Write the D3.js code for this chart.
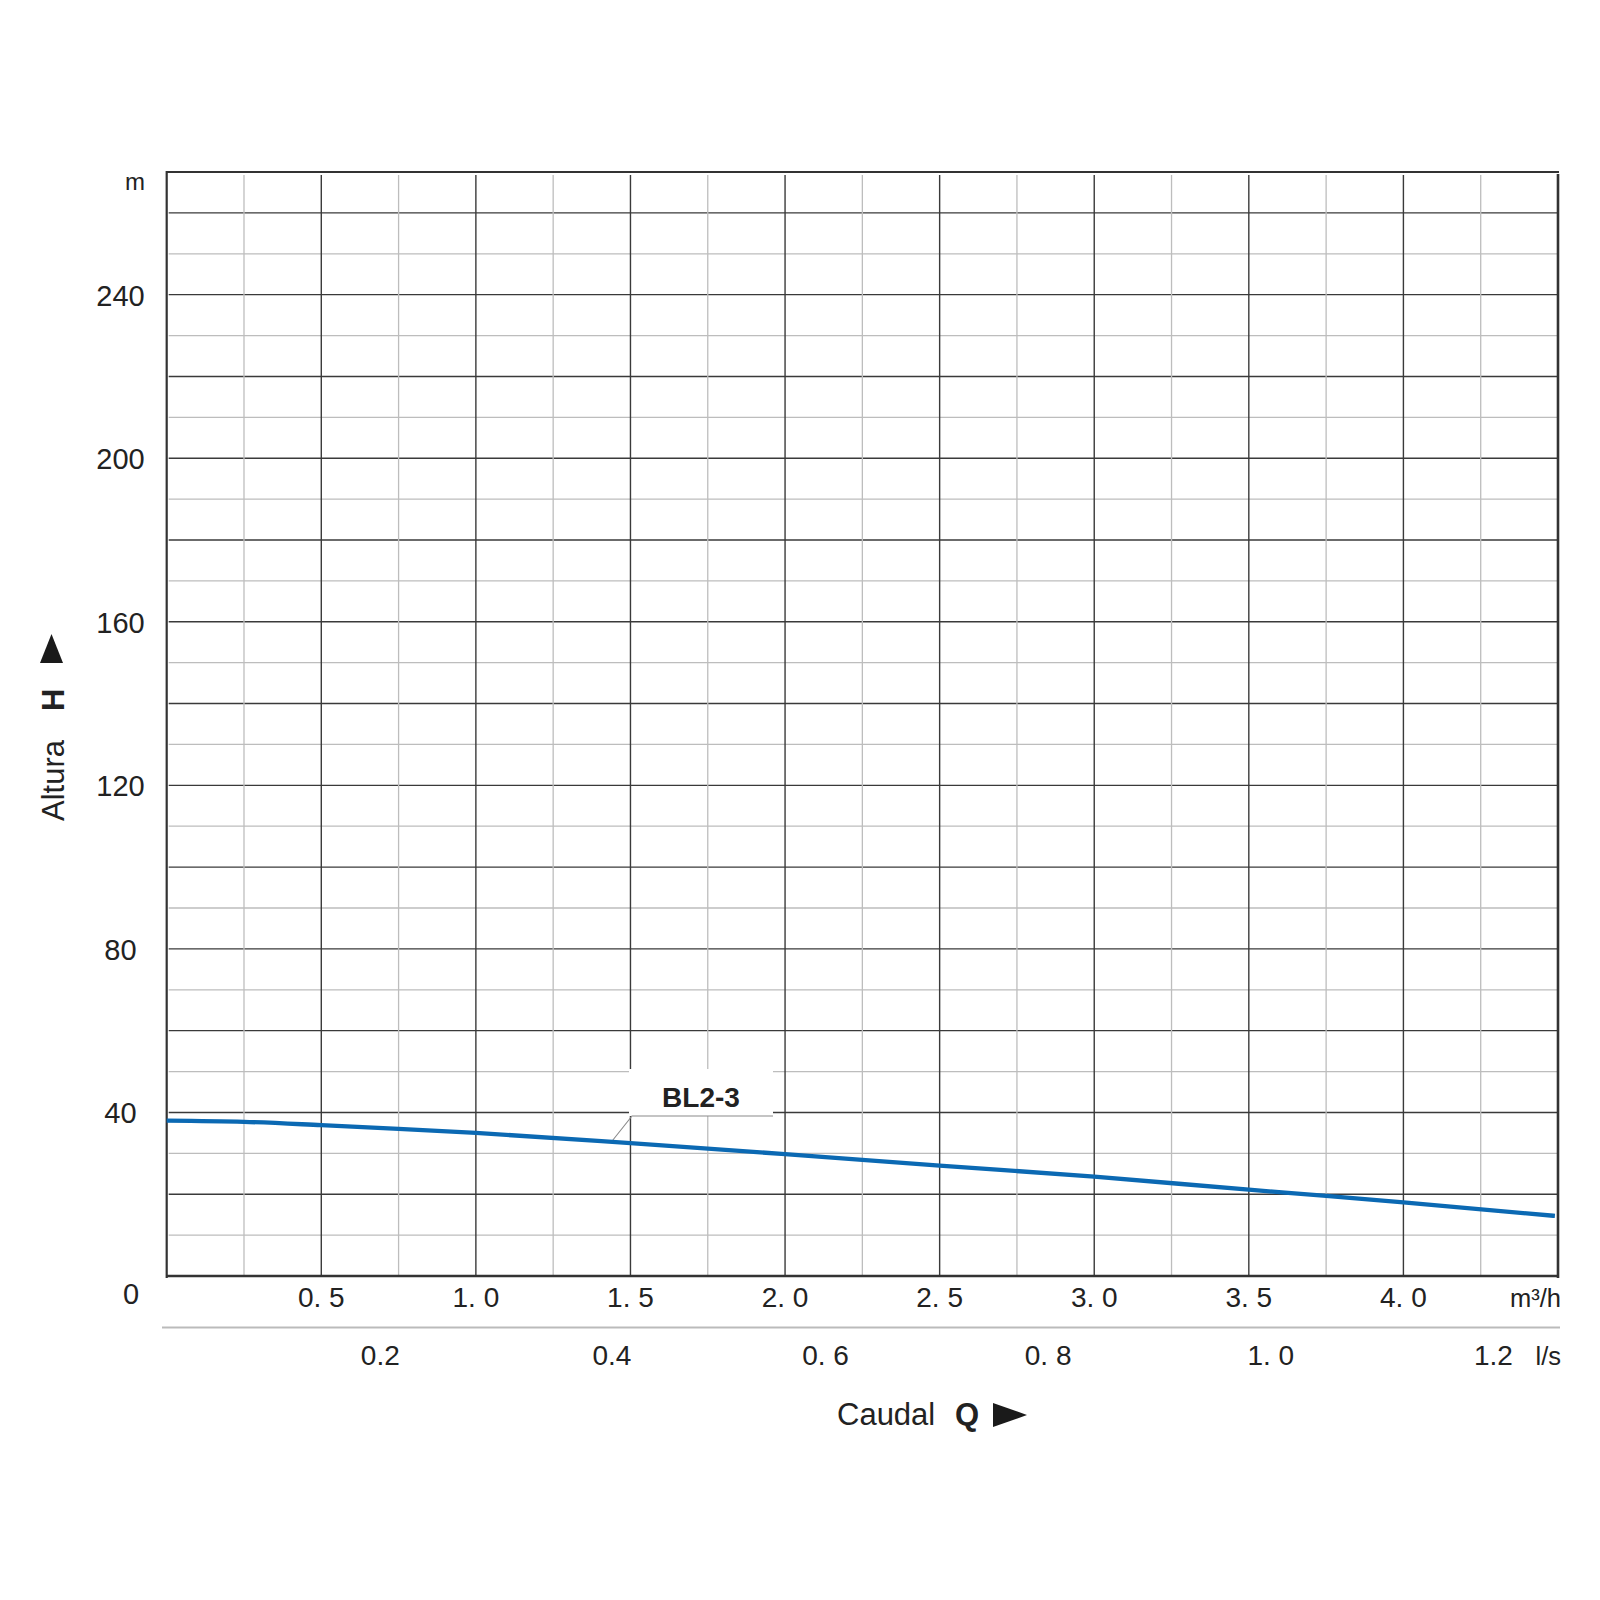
<!DOCTYPE html>
<html><head><meta charset="utf-8">
<script src="https://cdn.jsdelivr.net/npm/d3@7"></script>
<style>body{margin:0;background:#fff}svg text{font-family:"Liberation Sans",Arial,sans-serif;fill:#222}</style>
</head><body><svg id="c" width="1600" height="1600"></svg>
<script>
// Data
const flowM3h = [0, 0.25, 0.5, 0.75, 1.0, 1.5, 2.0, 2.5, 3.0, 3.5, 3.75, 4.0, 4.49];
const headM   = [38.0, 37.7, 36.9, 36.0, 35.0, 32.5, 29.8, 27.0, 24.3, 21.1, 19.6, 18.0, 14.7];
const xTickLabels = ["0. 5","1. 0","1. 5","2. 0","2. 5","3. 0","3. 5","4. 0"];
const xTickValues = [0.5,1.0,1.5,2.0,2.5,3.0,3.5,4.0];
const lsTickValues = [0.2,0.4,0.6,0.8,1.0,1.2];
const lsTickLabels = ["0.2","0.4","0. 6","0. 8","1. 0","1.2"];
const yTickValues = [40,80,120,160,200,240];
const seriesName = "BL2-3";

const svg = d3.select("#c");
const L=166.7, R=1558, T=172, B=1276;
const x = d3.scaleLinear().domain([0,4.5]).range([L,R]);
const xls = d3.scaleLinear().domain([0,4.5/3.6]).range([L,R]);
const y = d3.scaleLinear().domain([0,270]).range([B,T]);

const g = svg.append("g");
d3.range(10,270,10).forEach(v=>{
  const major = v%20===0;
  g.append("line").attr("x1",L+2).attr("x2",R).attr("y1",y(v)).attr("y2",y(v))
   .attr("stroke",major?"#3a3a3a":"#bdbdbd").attr("stroke-width",major?1.4:1.3);
});
d3.range(0.25,4.5,0.25).forEach(v=>{
  const major = Math.abs(v*2-Math.round(v*2))<1e-6;
  g.append("line").attr("y1",T+3).attr("y2",B).attr("x1",x(v)).attr("x2",x(v))
   .attr("stroke",major?"#3a3a3a":"#bdbdbd").attr("stroke-width",major?1.4:1.3);
});
g.append("line").attr("x1",L).attr("x2",R+1).attr("y1",T).attr("y2",T).attr("stroke","#333").attr("stroke-width",2.2);
g.append("line").attr("x1",L).attr("x2",L).attr("y1",T-1).attr("y2",B+2).attr("stroke","#333").attr("stroke-width",2.2);
g.append("line").attr("x1",R).attr("x2",R).attr("y1",T+2).attr("y2",B+2).attr("stroke","#333").attr("stroke-width",2.6);
g.append("line").attr("x1",L).attr("x2",R+1).attr("y1",B).attr("y2",B).attr("stroke","#333").attr("stroke-width",2.6);

g.append("rect").attr("x",629).attr("y",1069).attr("width",144).attr("height",47).attr("fill","#fff");
g.append("path").attr("d","M773,1116 L632,1116 L612.5,1140.5").attr("fill","none").attr("stroke","#8a8a8a").attr("stroke-width",1.1);
svg.append("text").attr("x",701).attr("y",1107).attr("text-anchor","middle")
  .attr("font-size",28).attr("font-weight","bold").text(seriesName);

const line = d3.line().x((d,i)=>x(flowM3h[i])).y(d=>y(d)).curve(d3.curveMonotoneX);
svg.append("path").datum(headM).attr("d",line).attr("fill","none")
  .attr("stroke","#0b69b3").attr("stroke-width",4.3);

yTickValues.forEach(v=>{
  svg.append("text").attr("x",120.5).attr("y",y(v)+11).attr("text-anchor","middle").attr("font-size",29).text(v);
});
svg.append("text").attr("x",131).attr("y",1304).attr("text-anchor","middle").attr("font-size",29).text("0");
svg.append("text").attr("x",145).attr("y",190).attr("text-anchor","end").attr("font-size",24).text("m");

xTickValues.forEach((v,i)=>{
  svg.append("text").attr("x",x(v)).attr("y",1307).attr("text-anchor","middle").attr("font-size",28).text(xTickLabels[i]);
});
svg.append("text").attr("x",1561).attr("y",1307).attr("text-anchor","end").attr("font-size",25.5).text("m³/h");
svg.append("line").attr("x1",162).attr("x2",1560).attr("y1",1327.5).attr("y2",1327.5).attr("stroke","#bbb").attr("stroke-width",2);
lsTickValues.forEach((v,i)=>{
  const nudge = i===1 ? 0 : -9;
  svg.append("text").attr("x",xls(v)+nudge).attr("y",1365).attr("text-anchor","middle").attr("font-size",28).text(lsTickLabels[i]);
});
svg.append("text").attr("x",1561).attr("y",1365).attr("text-anchor","end").attr("font-size",25.5).text("l/s");

svg.append("text").attr("x",837).attr("y",1425).attr("font-size",31).text("Caudal");
svg.append("text").attr("x",955).attr("y",1425).attr("font-size",31).attr("font-weight","bold").text("Q");
svg.append("path").attr("d","M993,1403 L1027,1415 L993,1427 Z").attr("fill","#1a1a1a");

svg.append("text").attr("transform","translate(63.5,821) rotate(-90)").attr("font-size",31).text("Altura");
svg.append("text").attr("transform","translate(63.5,711) rotate(-90)").attr("font-size",31).attr("font-weight","bold").text("H");
svg.append("path").attr("d","M40,663 L63,663 L51.5,634 Z").attr("fill","#1a1a1a");
</script></body></html>
